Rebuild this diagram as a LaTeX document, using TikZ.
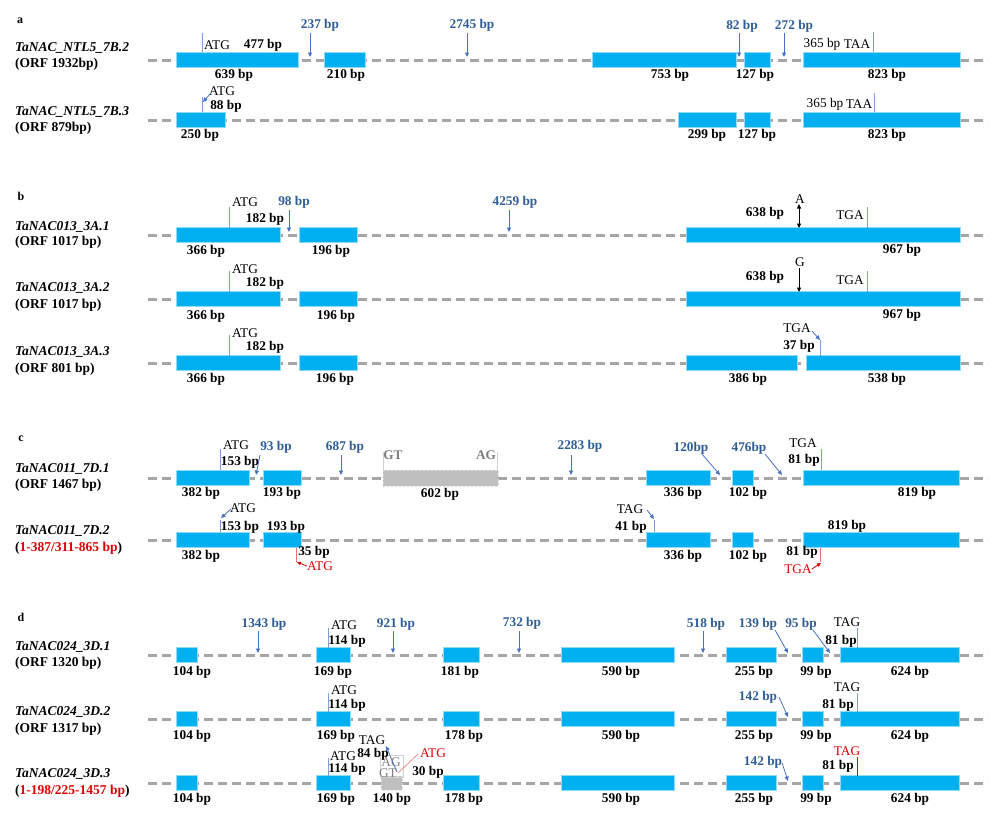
\documentclass[tikz,border=0pt]{standalone}
\usepackage{fontspec}
\setmainfont{Liberation Serif}
\usetikzlibrary{arrows.meta}
\definecolor{exonc}{HTML}{00B0F0}
\definecolor{intronc}{HTML}{A6A6A6}
\definecolor{labblue}{HTML}{2E5D96}
\definecolor{arrblue}{HTML}{4472C4}
\definecolor{markblue}{HTML}{7F9FD8}
\definecolor{redc}{HTML}{E00000}
\definecolor{lightred}{HTML}{F07070}
\definecolor{boxgray}{HTML}{BFBFBF}
\definecolor{txtgray}{HTML}{7F7F7F}
\tikzset{
  intron/.style={draw=intronc,line width=3pt,dash pattern=on 9pt off 5pt},
  exon/.style={fill=exonc,draw=exonc!45!white,line width=0.6pt},
  gbox/.style={fill=boxgray,draw=boxgray!60!white,line width=0.6pt,dash pattern=on 2pt off 2pt},
  lbl/.style={font=\fontsize{13.3}{15}\selectfont\bfseries,inner sep=0pt},
  cod/.style={font=\fontsize{13.3}{15}\selectfont,inner sep=0pt},
  blbl/.style={font=\fontsize{13.3}{15}\selectfont\bfseries,text=labblue,inner sep=0pt},
  gname/.style={font=\fontsize{13.5}{15}\selectfont\bfseries\itshape,inner sep=0pt,anchor=west},
  gorf/.style={font=\fontsize{13.5}{15}\selectfont\bfseries,inner sep=0pt,anchor=west},
  plbl/.style={font=\fontsize{12}{14}\selectfont\bfseries,inner sep=0pt},
  marker/.style={draw=markblue,line width=1pt},
  barrow/.style={draw=arrblue,line width=0.8pt,-{Triangle[length=4.5pt,width=4pt]}},
  redmark/.style={draw=redc,line width=1pt},
}
\newcommand\exons[2]{\foreach \a/\b in {#1} {\filldraw[exon] (\a,#2-7.5) rectangle (\b,#2+7.5);}}
\newcommand\intr[1]{\draw[intron] (148,#1) -- (988,#1);}
\newcommand\bl[3]{\node[lbl] at (#1,#2+1) {#3};}
\newcommand\al[3]{\node[lbl] at (#1,#2) {#3};}
\newcommand\cl[3]{\node[cod] at (#1,#2) {#3};}
\newcommand\ul[3]{\node[blbl] at (#1,#2) {#3};}
\begin{document}
\begin{tikzpicture}[x=1pt,y=-1pt]
\useasboundingbox (0,0) rectangle (1000,819);
% ================= panel a
\node[plbl] (pa) at (20,21) {a};
% row 1
\node[gname] (a1n) at (15,48) {TaNAC\_NTL5\_7B.2};
\node[gorf] (a1o) at (15,64) {(ORF 1932bp)};
\intr{60}
\exons{176/298,324/365,592/736,744/770,803/960}{60}
\draw[marker] (202,33) -- (202,52);
\cl{217}{45}{ATG} \al{263}{45}{477 bp}
\ul{320}{25}{237 bp} \draw[barrow] (310,33) -- (310,57);
\ul{472}{25}{2745 bp} \draw[barrow] (467,33) -- (467,57);
\ul{742}{26}{82 bp} \draw[barrow] (739,33) -- (739,57);
\ul{794}{26}{272 bp} \draw[barrow] (784,33) -- (784,57);
\cl{822}{44}{365 bp} \cl{857}{44}{TAA} \draw[marker] (873,32) -- (873,52);
\bl{234}{74}{639 bp} \bl{346}{74}{210 bp} \bl{670}{74}{753 bp} \bl{755}{74}{127 bp} \bl{887}{74}{823 bp}
% row 2
\node[gname] (a2n) at (15,112) {TaNAC\_NTL5\_7B.3};
\node[gorf] (a2o) at (15,128) {(ORF 879bp)};
\intr{120}
\exons{176/225,678/736,744/770,803/960}{120}
\draw[marker] (202,97) -- (202,112);
\cl{222}{91}{ATG} \al{226}{106}{88 bp}
\draw[barrow] (210,94) -- (203,102);
\cl{825}{104}{365 bp} \cl{859}{104}{TAA} \draw[marker] (874,93) -- (874,112);
\bl{200}{134}{250 bp} \bl{707}{134}{299 bp} \bl{757}{134}{127 bp} \bl{887}{134}{823 bp}
% ================= panel b
\node[plbl] (pb) at (21,196) {b};
% row 1
\node[gname] (b1n) at (15,227) {TaNAC013\_3A.1};
\node[gorf] (b1o) at (15,242) {(ORF 1017 bp)};
\intr{235}
\exons{176/280,299/357,686/960}{235}
\draw[marker] (229,207) -- (229,228);
\cl{245}{202}{ATG} \al{265}{219}{182 bp}
\ul{294}{202}{98 bp} \draw[barrow] (289,210) -- (289,232);
\ul{515}{202}{4259 bp} \draw[barrow] (509,210) -- (509,232);
\cl{800}{199}{A} \draw[line width=0.8pt,{Triangle[length=4.5pt,width=4pt]}-{Triangle[length=4.5pt,width=4pt]}] (799,204) -- (799,228);
\al{765}{213}{638 bp} \cl{850}{215}{TGA} \draw[marker] (867,207) -- (867,228);
\bl{206}{250}{366 bp} \bl{331}{250}{196 bp} \bl{902}{249}{967 bp}
% row 2
\node[gname] (b2n) at (15,288) {TaNAC013\_3A.2};
\node[gorf] (b2o) at (15,305) {(ORF 1017 bp)};
\intr{299}
\exons{176/280,299/357,686/960}{299}
\draw[marker] (229,271) -- (229,292);
\cl{245}{269}{ATG} \al{265}{283}{182 bp}
\cl{800}{262}{G} \draw[line width=0.8pt,-{Triangle[length=4.5pt,width=4pt]}] (799,268) -- (799,292);
\al{765}{277}{638 bp} \cl{850}{280}{TGA} \draw[marker] (867,271) -- (867,292);
\bl{206}{315}{366 bp} \bl{336}{315}{196 bp} \bl{902}{314}{967 bp}
% row 3
\node[gname] (b3n) at (15,352) {TaNAC013\_3A.3};
\node[gorf] (b3o) at (15,369) {(ORF 801 bp)};
\intr{363}
\exons{176/280,299/357,686/797,806/960}{363}
\draw[marker] (229,335) -- (229,356);
\cl{245}{333}{ATG} \al{265}{347}{182 bp}
\cl{797}{328}{TGA} \al{799}{346}{37 bp}
\draw[marker] (820,340) -- (820,356);
\draw[barrow] (812,331) -- (820,340);
\bl{206}{378}{366 bp} \bl{335}{378}{196 bp} \bl{748}{378}{386 bp} \bl{887}{378}{538 bp}
% ================= panel c
\node[plbl] (pc) at (21,439) {c};
% row 1
\node[gname] (c1n) at (15,469) {TaNAC011\_7D.1};
\node[gorf] (c1o) at (15,485) {(ORF 1467 bp)};
\intr{478}
\filldraw[gbox] (383,470) rectangle (498,486);
\draw[draw=intronc!50!white,line width=0.8pt] (383,452) -- (383,470) (497,452) -- (497,470);
\node[cod,text=txtgray,font=\fontsize{13.3}{15}\selectfont\bfseries] at (393,455) {GT};
\node[cod,text=txtgray,font=\fontsize{13.3}{15}\selectfont\bfseries] at (486,455) {AG};
\bl{440}{493}{602 bp}
\exons{176/249,263/301,646/710,732/753,803/959}{478}
\draw[marker] (220,449) -- (220,470);
\cl{236}{445}{ATG} \al{240}{462}{153 bp}
\ul{276}{447}{93 bp} \draw[barrow] (260,455) -- (256,475);
\ul{345}{447}{687 bp} \draw[barrow] (341,455) -- (341,475);
\ul{580}{446}{2283 bp} \draw[barrow] (571,455) -- (571,475);
\ul{691}{448}{120bp} \draw[barrow] (702,454) -- (720,475);
\ul{749}{448}{476bp} \draw[barrow] (765,454) -- (782,475);
\cl{803}{443}{TGA} \al{804}{460}{81 bp} \draw[marker] (821,449) -- (821,470);
\bl{201}{492}{382 bp} \bl{282}{492}{193 bp} \bl{683}{492}{336 bp} \bl{748}{492}{102 bp} \bl{917}{492}{819 bp}
% row 2
\node[gname] (c2n) at (15,531) {TaNAC011\_7D.2};
\node[gorf] (c2o) at (15,548) {(\textcolor{redc}{1-387/311-865 bp})};
\intr{540}
\exons{176/249,263/301,646/710,732/753,803/959}{540}
\draw[marker] (220,520) -- (220,532);
\cl{243}{508}{ATG} \draw[barrow] (231,509) -- (221,518);
\al{240}{527}{153 bp} \al{286}{527}{193 bp}
\draw[draw=lightred,line width=1pt] (296,548) -- (296,562);
\node[cod,text=redc] (c2atg) at (320,566) {ATG};
\draw[draw=redc,line width=0.8pt,-{Triangle[length=4pt,width=3.5pt]}] (c2atg.west) -- (297,562);
\al{314}{552}{35 bp}
\cl{630}{509}{TAG} \al{631}{527}{41 bp}
\draw[marker] (654,520) -- (654,532);
\draw[barrow] (647,510) -- (654,519);
\al{847}{526}{819 bp}
\al{802}{552}{81 bp}
\draw[draw=lightred,line width=1pt] (820,548) -- (820,562);
\node[cod,text=redc] (c2tga) at (798,569) {TGA};
\draw[draw=redc,line width=0.8pt,-{Triangle[length=4pt,width=3.5pt]}] (c2tga.east) -- (821,563);
\bl{201}{555}{382 bp} \bl{683}{555}{336 bp} \bl{748}{555}{102 bp}
% ================= panel d
\node[plbl] (pd) at (21,617) {d};
% row 1
\node[gname] (d1n) at (15,647) {TaNAC024\_3D.1};
\node[gorf] (d1o) at (15,663) {(ORF 1320 bp)};
\intr{655}
\exons{176/197,316/350,443/479,561/674,726/776,802/823,840/959}{655}
\ul{264}{624}{1343 bp} \draw[barrow] (258,631) -- (258,653);
\draw[marker] (328,628) -- (328,648);
\cl{344}{625}{ATG} \al{347}{641}{114 bp}
\ul{396}{624}{921 bp} \draw[barrow] (393,631) -- (393,653);
\ul{522}{623}{732 bp} \draw[barrow] (519,631) -- (519,653);
\ul{706}{624}{518 bp} \draw[barrow] (703,631) -- (703,653);
\ul{758}{624}{139 bp} \draw[barrow] (775,630) -- (788,653);
\ul{801}{624}{95 bp} \draw[barrow] (813,630) -- (830,653);
\cl{847}{622}{TAG} \al{841}{641}{81 bp} \draw[marker] (857,628) -- (857,648);
\bl{192}{671}{104 bp} \bl{333}{671}{169 bp} \bl{460}{671}{181 bp} \bl{621}{671}{590 bp} \bl{754}{671}{255 bp} \bl{816}{671}{99 bp} \bl{910}{671}{624 bp}
% row 2
\node[gname] (d2n) at (15,712) {TaNAC024\_3D.2};
\node[gorf] (d2o) at (15,729) {(ORF 1317 bp)};
\intr{719}
\exons{176/197,316/350,443/479,561/674,726/776,802/823,840/959}{719}
\draw[marker] (328,693) -- (328,712);
\cl{344}{690}{ATG} \al{347}{705}{114 bp}
\ul{758}{697}{142 bp} \draw[barrow] (779,697) -- (788,717);
\cl{847}{687}{TAG} \al{838}{705}{81 bp} \draw[marker] (857,693) -- (857,712);
\bl{192}{735}{104 bp} \bl{336}{735}{169 bp} \bl{464}{735}{178 bp} \bl{621}{735}{590 bp} \bl{754}{735}{255 bp} \bl{816}{735}{99 bp} \bl{910}{735}{624 bp}
% row 3
\node[gname] (d3n) at (15,774) {TaNAC024\_3D.3};
\node[gorf] (d3o) at (15,791) {(\textcolor{redc}{1-198/225-1457 bp})};
\intr{783}
\filldraw[gbox] (381,776) rectangle (402,790);
\exons{176/197,316/350,443/479,561/674,726/776,802/823,840/959}{783}
\draw[draw=intronc!50!white,line width=0.6pt] (380,755) rectangle (403,777);
\draw[marker] (328,758) -- (328,776);
\cl{343}{756}{ATG} \al{347}{769}{114 bp}
\cl{372}{740}{TAG} \al{373}{754}{84 bp}
\node[cod,text=txtgray] at (391,762) {AG};
\node[cod,text=txtgray] at (388,773) {GT};
\draw[barrow] (397,772) -- (386,746);
\draw[draw=lightred,line width=0.6pt] (418,754) -- (398,773);
\node[cod,text=redc] at (433,753) {ATG};
\al{428}{772}{30 bp}
\ul{763}{762}{142 bp} \draw[barrow] (782,763) -- (788,781);
\node[cod,text=redc] at (847,751) {TAG};
\al{838}{766}{81 bp} \draw[redmark] (857,757) -- (857,776);
\bl{192}{798}{104 bp} \bl{336}{798}{169 bp} \bl{392}{798}{140 bp} \bl{464}{798}{178 bp} \bl{621}{798}{590 bp} \bl{754}{798}{255 bp} \bl{816}{798}{99 bp} \bl{910}{798}{624 bp}
\end{tikzpicture}
\end{document}
